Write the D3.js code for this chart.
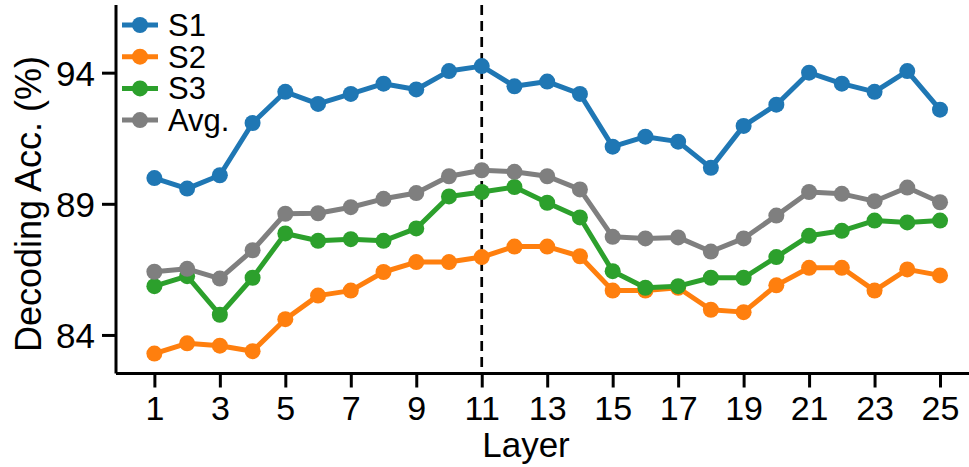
<!DOCTYPE html>
<html>
<head>
<meta charset="utf-8">
<script src="https://cdn.jsdelivr.net/npm/d3@7"></script>
<style>
  body { margin: 0; background: #fff; }
  svg { display: block; font-family: Arial, "Liberation Sans", sans-serif; }
</style>
</head>
<body>
<div id="chart"></div>
<script>
// Data
const layers = d3.range(1, 26);
const s1 = [89.98, 89.58, 90.09, 92.08, 93.27, 92.81, 93.19, 93.58, 93.36, 94.06, 94.25, 93.48, 93.66,
            93.19, 91.18, 91.56, 91.37, 90.37, 91.97, 92.78, 94.0, 93.58, 93.27, 94.06, 92.59];
const s2 = [83.29, 83.68, 83.59, 83.38, 84.60, 85.50, 85.69, 86.40, 86.78, 86.78, 86.97, 87.37, 87.37,
            87.0, 85.69, 85.69, 85.80, 84.96, 84.87, 85.89, 86.56, 86.56, 85.69, 86.5, 86.27];
const s3 = [85.86, 86.24, 84.77, 86.18, 87.87, 87.59, 87.65, 87.59, 88.06, 89.28, 89.45, 89.64, 89.04,
            88.48, 86.43, 85.80, 85.86, 86.18, 86.18, 86.97, 87.78, 87.97, 88.36, 88.29, 88.36];
const avg = [86.41, 86.52, 86.15, 87.23, 88.62, 88.64, 88.87, 89.19, 89.41, 90.05, 90.28, 90.22, 90.05,
             89.55, 87.74, 87.68, 87.72, 87.18, 87.68, 88.55, 89.45, 89.38, 89.10, 89.62, 89.06];
const seriesNames = ["S1", "S2", "S3", "Avg."];
const seriesColors = ["#1f77b4", "#ff7f0e", "#2ca02c", "#7f7f7f"];
const xTicks = d3.range(1, 26, 2);
const yTicks = [84, 89, 94];
const bestLayer = 11;

const series = [s1, s2, s3, avg];

// Dimensions
const W = 969, H = 467;
const plotLeft = 116, plotTop = 5, plotBottom = 373.5;

const svg = d3.select("#chart").append("svg")
    .attr("width", W)
    .attr("height", H);

// Scales
const x = d3.scaleLinear().domain([-0.2, 26.2]).range([115.1, 979.3]);
const y = d3.scaleLinear().domain([82.53, 96.58]).range([plotBottom, plotTop]);

// Axes
const xAxis = svg.append("g")
    .attr("transform", `translate(0,${plotBottom})`)
    .call(d3.axisBottom(x).tickValues(xTicks).tickFormat(d3.format("d")).tickSize(14).tickPadding(8).tickSizeOuter(0));
xAxis.selectAll("text").style("font-size", "34px").attr("fill", "#000");

const yAxis = svg.append("g")
    .attr("transform", `translate(${plotLeft},0)`)
    .call(d3.axisLeft(y).tickValues(yTicks).tickSize(14).tickPadding(7).tickSizeOuter(0));
yAxis.selectAll("text").style("font-size", "35px").attr("fill", "#000").attr("dy", "0.36em");

[xAxis, yAxis].forEach(a => {
    a.select(".domain").attr("stroke", "#000").attr("stroke-width", 3);
    a.selectAll(".tick line").attr("stroke", "#000").attr("stroke-width", 3);
});
// keep the x spine starting at the y spine
xAxis.select(".domain").attr("d", `M${plotLeft},0H${W + 20}`);
yAxis.select(".domain").attr("d", `M0,${plotBottom}V${plotTop}`);

// Axis labels
svg.append("text")
    .attr("x", 526)
    .attr("y", 457)
    .attr("text-anchor", "middle")
    .style("font-size", "35px")
    .text("Layer");

svg.append("text")
    .attr("transform", `translate(41,204) rotate(-90)`)
    .attr("text-anchor", "middle")
    .style("font-size", "36px")
    .text("Decoding Acc. (%)");

// Dashed marker at the best layer
svg.append("line")
    .attr("x1", x(bestLayer)).attr("x2", x(bestLayer))
    .attr("y1", plotTop).attr("y2", plotBottom)
    .attr("stroke", "#000")
    .attr("stroke-width", 2.7)
    .attr("stroke-dasharray", "10,6");

// Lines and markers
const line = d3.line().x((d, i) => x(layers[i])).y(d => y(d));

series.forEach((vals, k) => {
    const g = svg.append("g");
    g.append("path")
        .datum(vals)
        .attr("d", line)
        .attr("fill", "none")
        .attr("stroke", seriesColors[k])
        .attr("stroke-width", 5)
        .attr("stroke-linejoin", "round");
    g.selectAll("circle")
        .data(vals)
        .enter()
        .append("circle")
        .attr("cx", (d, i) => x(layers[i]))
        .attr("cy", d => y(d))
        .attr("r", 8)
        .attr("fill", seriesColors[k]);
});

// Legend
const legend = svg.append("g");
seriesNames.forEach((name, k) => {
    const cy = 25 + k * 31.7;
    legend.append("line")
        .attr("x1", 122).attr("x2", 158)
        .attr("y1", cy).attr("y2", cy)
        .attr("stroke", seriesColors[k])
        .attr("stroke-width", 5);
    legend.append("circle")
        .attr("cx", 140).attr("cy", cy).attr("r", 8)
        .attr("fill", seriesColors[k]);
    legend.append("text")
        .attr("x", 168).attr("y", cy + 11)
        .style("font-size", "31px")
        .text(name);
});
</script>
</body>
</html>
